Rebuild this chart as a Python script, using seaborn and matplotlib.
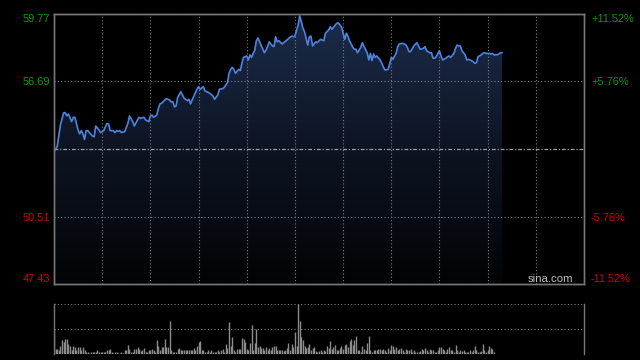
import matplotlib
matplotlib.use("Agg")
import matplotlib.pyplot as plt
import numpy as np
import seaborn as sns
from matplotlib.colors import LinearSegmentedColormap

# price axis labels (left) and change labels (right)
prev_close = 53.60
price_ticks = [47.43, 50.51, 56.69, 59.77]
price_labels = ["47.43", "50.51", "56.69", "59.77"]
pct_labels = ["-11.52%", "-5.76%", "+5.76%", "+11.52%"]
label_colors = ["#d40000", "#d40000", "#0a9a0a", "#0a9a0a"]

# trading minute since open (330-minute session) and last price
minute = [
    0, 2, 4, 6, 7, 8, 9, 11, 12, 13,
    15, 16, 17, 18, 19, 20, 21, 22, 24, 25,
    26, 28, 29, 31, 32, 33, 34, 35, 37, 38,
    39, 40, 41, 42, 44, 46, 47, 49, 50, 52,
    53, 54, 56, 57, 59, 60, 61, 62, 64, 65,
    66, 67, 69, 70, 72, 73, 74, 75, 76, 77,
    79, 80, 81, 83, 84, 85, 86, 88, 89, 90,
    91, 93, 94, 95, 97, 99, 100, 102, 103, 105,
    106, 108, 109, 110, 111, 112, 113, 115, 116, 117,
    118, 120, 121, 122, 123, 125, 126, 127, 128, 130,
    131, 132, 133, 134, 136, 137, 138, 139, 140, 142,
    143, 145, 147, 148, 149, 150, 152, 153, 154, 155,
    156, 158, 159, 160, 161, 163, 164, 165, 166, 168,
    169, 171, 172, 173, 174, 176, 177, 178, 179, 181,
    182, 183, 184, 186, 187, 188, 189, 191, 192, 193,
    195, 196, 197, 198, 199, 200, 201, 203, 204, 205,
    206, 208, 209, 210, 211, 213, 214, 215, 217, 219,
    220, 221, 222, 224, 226, 227, 228, 230, 231, 232,
    234, 235, 236, 237, 238, 239, 240, 241, 242, 244,
    245, 246, 247, 249, 250, 251, 252, 253, 254, 256,
    257, 258, 259, 261, 262, 263, 264, 266, 267, 268,
    269, 271, 272, 273, 274, 276, 277, 278, 279,
]
price = [
    53.48, 53.71, 54.70, 55.25, 55.26, 55.11, 55.20, 54.85, 55.05, 55.05,
    54.47, 54.29, 54.44, 54.29, 54.04, 54.44, 54.44, 54.35, 54.19, 54.16,
    54.65, 54.47, 54.35, 54.44, 54.62, 54.77, 54.74, 54.44, 54.44, 54.35,
    54.44, 54.41, 54.44, 54.35, 54.39, 54.77, 55.11, 54.85, 54.65, 54.93,
    55.05, 55.00, 55.05, 54.93, 54.85, 55.11, 55.15, 55.05, 55.15, 55.46,
    55.66, 55.69, 55.84, 55.90, 55.84, 55.75, 55.76, 55.53, 55.56, 55.96,
    56.22, 56.07, 55.92, 55.81, 55.87, 55.66, 55.84, 56.17, 56.33, 56.45,
    56.33, 56.45, 56.26, 56.22, 56.15, 56.02, 55.87, 56.07, 56.33, 56.36,
    56.42, 56.63, 57.06, 57.24, 57.33, 57.24, 57.06, 57.24, 57.18, 57.52,
    57.79, 57.85, 57.67, 57.90, 57.79, 58.12, 58.55, 58.67, 58.50, 58.16,
    58.00, 58.12, 58.28, 58.50, 58.31, 58.28, 58.73, 58.50, 58.55, 58.40,
    58.46, 58.58, 58.71, 58.76, 58.73, 58.76, 59.27, 59.68, 59.42, 59.12,
    58.96, 58.35, 58.73, 58.76, 58.31, 58.50, 58.46, 58.55, 58.61, 58.55,
    58.89, 59.04, 59.19, 59.07, 59.16, 59.34, 59.37, 59.27, 59.19, 58.61,
    58.89, 58.76, 58.55, 58.25, 58.16, 58.16, 58.00, 58.25, 58.46, 58.28,
    58.00, 57.67, 57.97, 57.64, 57.94, 57.79, 57.85, 57.67, 57.54, 57.36,
    57.21, 57.24, 57.48, 57.79, 57.70, 57.97, 58.28, 58.40, 58.43, 58.37,
    58.25, 58.05, 58.05, 58.31, 58.46, 58.31, 58.16, 58.20, 58.28, 58.09,
    58.00, 58.00, 57.75, 57.75, 57.82, 57.97, 58.09, 57.85, 57.67, 57.75,
    57.82, 57.85, 57.79, 57.97, 58.20, 58.35, 58.31, 58.31, 58.09, 57.90,
    57.67, 57.70, 57.67, 57.59, 57.52, 57.54, 57.82, 57.90, 57.97, 58.00,
    57.97, 57.97, 57.94, 57.97, 57.90, 57.91, 57.94, 58.00, 58.00,
]

# per-minute volume (relative units)
volume = [
    75, 15, 15, 13, 25, 43, 35, 45, 45, 31,
    25, 13, 25, 21, 13, 21, 21, 11, 21, 13,
    7, 5, 3, 7, 5, 7, 5, 13, 5, 7,
    5, 5, 7, 13, 13, 15, 7, 3, 5, 7,
    3, 3, 5, 3, 11, 13, 28, 15, 7, 7,
    15, 15, 21, 15, 8, 11, 18, 7, 5, 11,
    11, 15, 11, 5, 43, 23, 13, 21, 21, 45,
    21, 21, 100, 11, 7, 5, 7, 15, 18, 13,
    11, 11, 11, 13, 11, 11, 13, 18, 13, 25,
    35, 38, 11, 13, 7, 7, 11, 7, 13, 7,
    5, 7, 13, 7, 13, 15, 7, 31, 18, 97,
    23, 51, 13, 7, 15, 15, 15, 48, 45, 35,
    15, 13, 33, 88, 13, 33, 75, 21, 25, 18,
    18, 13, 21, 13, 18, 13, 21, 23, 25, 13,
    13, 11, 13, 8, 11, 18, 33, 13, 31, 21,
    67, 25, 150, 100, 51, 41, 23, 18, 21, 31,
    13, 18, 21, 8, 7,
    8, 11, 7, 13, 8, 25, 18, 38, 15, 21,
    28, 11, 13, 18, 25, 15, 28, 31, 21, 38,
    45, 28, 43, 55, 13, 11, 7, 23, 15, 11,
    33, 55, 13, 7, 11, 13, 13, 15, 15, 13,
    15, 11, 7, 18, 13, 28, 25, 15, 21, 11,
    15, 18, 11, 7, 15, 11, 13, 15, 7, 11,
    7, 7, 5, 8, 15, 11, 18, 13, 7, 15,
    11, 13, 7, 7, 13, 21, 21, 15, 13, 7,
    15, 21, 11, 13, 7, 28, 13, 7, 13, 8,
    11, 7, 5, 7, 11, 7, 13, 25, 11, 5,
    7, 8, 31, 11, 7, 13, 25, 18, 15, 7,
]
vol_minute = np.arange(len(volume))

SESSION = 330
GRID = "#808080"
FRAME = "#777777"

sns.set_theme(style="dark", rc={
    "figure.facecolor": "black",
    "axes.facecolor": "black",
    "axes.edgecolor": FRAME,
    "axes.linewidth": 1.0,
})
plt.rcParams["font.family"] = ["Liberation Sans", "DejaVu Sans"]

fig = plt.figure(figsize=(6.4, 3.6), dpi=100)
ax = fig.add_axes([54 / 640, 1 - 284 / 360, 530 / 640, 270 / 360])
axv = fig.add_axes([54 / 640, 1 - 354 / 360, 530 / 640, 50 / 360])

# gradient area under the price line
fill = ax.fill_between(minute, price, price_ticks[0], facecolor="none", edgecolor="none")
fade = LinearSegmentedColormap.from_list("fade", ["#1c2c4c", "#0d1422", "#020305"])
grad = ax.imshow(np.linspace(0, 1, 256).reshape(-1, 1), cmap=fade, aspect="auto",
                 extent=[0, SESSION, price_ticks[0], price_ticks[-1]],
                 origin="upper", zorder=1)
grad.set_clip_path(fill.get_paths()[0], transform=ax.transData)

sns.lineplot(x=minute, y=price, ax=ax, color="#4d84de", linewidth=1.2,
             estimator=None, sort=False, zorder=4)
ax.axhline(prev_close, color="#a0a0a0", lw=0.9, ls=(0, (3, 1.5, 1, 1.5)), zorder=3)

ax.set_xlim(0, SESSION)
ax.set_ylim(price_ticks[0], price_ticks[-1])
ax.set_xticks(range(30, SESSION, 30))
ax.set_yticks(price_ticks)
ax.set_yticklabels(price_labels)
ax.set_axisbelow(False)
ax.grid(True, color=GRID, lw=0.8, ls=(0, (1, 2)), zorder=2)
ax.tick_params(axis="x", length=0, labelbottom=False)
ax.tick_params(axis="y", length=0, pad=3, labelsize=7.9)
ax.set_xlabel("")
ax.set_ylabel("")
for lab, c in zip(ax.get_yticklabels(), label_colors):
    lab.set_color(c)
ax.get_yticklabels()[0].set_va("bottom")
ax.get_yticklabels()[-1].set_va("top")

ax2 = ax.twinx()
ax2.set_ylim(price_ticks[0], price_ticks[-1])
ax2.set_yticks(price_ticks)
ax2.set_yticklabels(pct_labels)
ax2.grid(False)
ax2.tick_params(axis="y", length=0, pad=5, labelsize=7.9)
for lab, c in zip(ax2.get_yticklabels(), label_colors):
    lab.set_color(c)
ax2.get_yticklabels()[0].set_va("bottom")
ax2.get_yticklabels()[-1].set_va("top")

ax.text(0.98, 0.018, "sina.com", transform=ax.transAxes, ha="right", va="center",
        color="#bdbdbd", fontsize=8.2, zorder=5)

# volume panel
vmax = max(volume)
axv.vlines(vol_minute, 0, volume, color="#8c8c8c", lw=1.0)
axv.set_xlim(0, SESSION)
axv.set_ylim(0, vmax)
axv.set_xticks([])
axv.set_yticks([vmax / 2, vmax])
axv.set_axisbelow(False)
axv.grid(True, axis="y", color=GRID, lw=0.8, ls=(0, (1, 2)))
axv.tick_params(axis="y", length=0, labelleft=False)
axv.spines["top"].set_visible(False)
axv.spines["bottom"].set_visible(False)

fig.savefig("out.png", dpi=100, facecolor="black")
